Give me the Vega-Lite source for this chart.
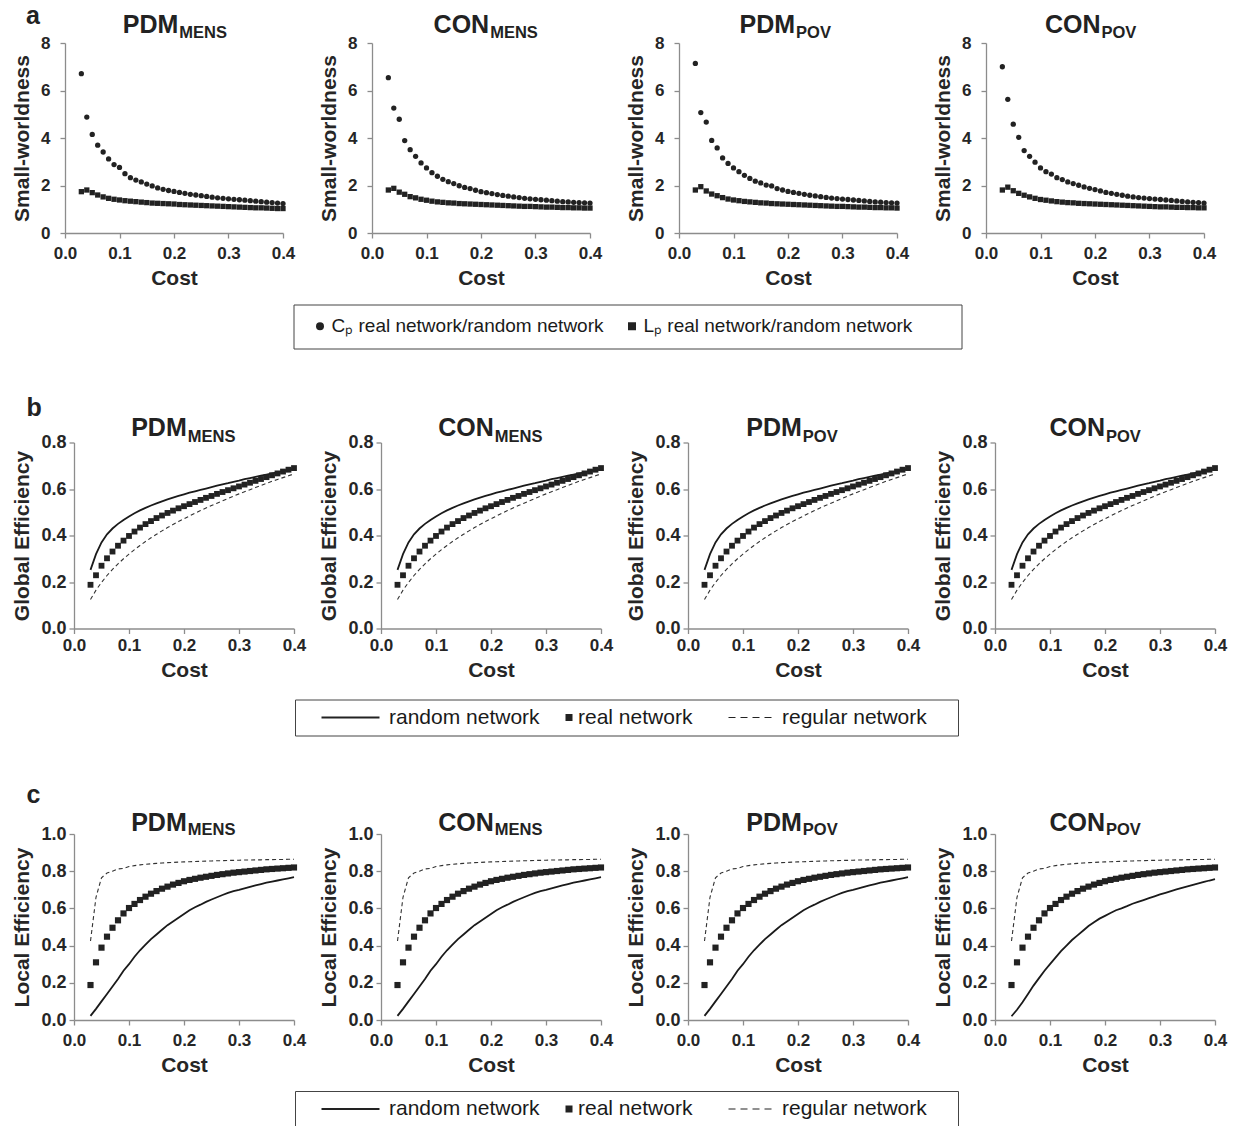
{
"$schema": "https://vega.github.io/schema/vega-lite/v6.json",
"background": "white",
"padding": {"left": 10, "top": 4, "right": 10, "bottom": 5},
"config": {
  "font": "Liberation Sans",
  "view": {"stroke": null},
  "axis": {"grid": false, "domainColor": "#8c8c8c", "domainWidth": 1.3, "tickColor": "#8c8c8c", "tickWidth": 1.3, "tickSize": 5, "labelFont": "Liberation Sans", "labelFontSize": 17, "labelFontWeight": "bold", "labelColor": "#262626", "labelFlush": false, "labelOverlap": false, "tickCount": 12, "titleFont": "Liberation Sans", "titleFontSize": 21, "titleFontWeight": "bold", "titleColor": "#262626"},
  "title": {"font": "Liberation Sans", "fontSize": 25, "fontWeight": "bold", "color": "#222", "anchor": "start", "frame": "bounds", "baseline": "alphabetic"},
  "legend": {"labelFont": "Liberation Sans", "labelColor": "#1a1a1a", "labelLimit": 600, "strokeColor": "#444", "direction": "horizontal", "orient": "none"}
},
"datasets": {
"t": [{"g":"PDM_MENS","n":"PDM","s":"MENS"},{"g":"CON_MENS","n":"CON","s":"MENS"},{"g":"PDM_POV","n":"PDM","s":"POV"},{"g":"CON_POV","n":"CON","s":"POV"}],
"sw": [
{"g":"PDM_MENS","x":0.03,"cp":6.71,"lp":1.74},{"g":"PDM_MENS","x":0.04,"cp":4.88,"lp":1.81},{"g":"PDM_MENS","x":0.05,"cp":4.15,"lp":1.70},{"g":"PDM_MENS","x":0.06,"cp":3.70,"lp":1.60},{"g":"PDM_MENS","x":0.07,"cp":3.41,"lp":1.52},{"g":"PDM_MENS","x":0.08,"cp":3.12,"lp":1.46},{"g":"PDM_MENS","x":0.09,"cp":2.88,"lp":1.42},{"g":"PDM_MENS","x":0.1,"cp":2.76,"lp":1.39},{"g":"PDM_MENS","x":0.11,"cp":2.50,"lp":1.36},{"g":"PDM_MENS","x":0.12,"cp":2.33,"lp":1.34},{"g":"PDM_MENS","x":0.13,"cp":2.23,"lp":1.32},{"g":"PDM_MENS","x":0.14,"cp":2.15,"lp":1.30},{"g":"PDM_MENS","x":0.15,"cp":2.06,"lp":1.28},{"g":"PDM_MENS","x":0.16,"cp":1.98,"lp":1.26},{"g":"PDM_MENS","x":0.17,"cp":1.90,"lp":1.25},{"g":"PDM_MENS","x":0.18,"cp":1.84,"lp":1.24},{"g":"PDM_MENS","x":0.19,"cp":1.79,"lp":1.23},{"g":"PDM_MENS","x":0.2,"cp":1.75,"lp":1.22},{"g":"PDM_MENS","x":0.21,"cp":1.71,"lp":1.20},{"g":"PDM_MENS","x":0.22,"cp":1.67,"lp":1.19},{"g":"PDM_MENS","x":0.23,"cp":1.63,"lp":1.18},{"g":"PDM_MENS","x":0.24,"cp":1.60,"lp":1.17},{"g":"PDM_MENS","x":0.25,"cp":1.57,"lp":1.16},{"g":"PDM_MENS","x":0.26,"cp":1.54,"lp":1.15},{"g":"PDM_MENS","x":0.27,"cp":1.51,"lp":1.14},{"g":"PDM_MENS","x":0.28,"cp":1.48,"lp":1.13},{"g":"PDM_MENS","x":0.29,"cp":1.46,"lp":1.12},{"g":"PDM_MENS","x":0.3,"cp":1.44,"lp":1.11},{"g":"PDM_MENS","x":0.31,"cp":1.42,"lp":1.10},{"g":"PDM_MENS","x":0.32,"cp":1.40,"lp":1.09},{"g":"PDM_MENS","x":0.33,"cp":1.38,"lp":1.08},{"g":"PDM_MENS","x":0.34,"cp":1.36,"lp":1.07},{"g":"PDM_MENS","x":0.35,"cp":1.34,"lp":1.06},{"g":"PDM_MENS","x":0.36,"cp":1.32,"lp":1.06},{"g":"PDM_MENS","x":0.37,"cp":1.30,"lp":1.05},{"g":"PDM_MENS","x":0.38,"cp":1.28,"lp":1.04},{"g":"PDM_MENS","x":0.39,"cp":1.26,"lp":1.03},{"g":"PDM_MENS","x":0.4,"cp":1.24,"lp":1.03},
{"g":"CON_MENS","x":0.03,"cp":6.54,"lp":1.81},{"g":"CON_MENS","x":0.04,"cp":5.26,"lp":1.88},{"g":"CON_MENS","x":0.05,"cp":4.79,"lp":1.72},{"g":"CON_MENS","x":0.06,"cp":3.89,"lp":1.63},{"g":"CON_MENS","x":0.07,"cp":3.51,"lp":1.53},{"g":"CON_MENS","x":0.08,"cp":3.23,"lp":1.48},{"g":"CON_MENS","x":0.09,"cp":2.95,"lp":1.42},{"g":"CON_MENS","x":0.1,"cp":2.74,"lp":1.38},{"g":"CON_MENS","x":0.11,"cp":2.54,"lp":1.34},{"g":"CON_MENS","x":0.12,"cp":2.39,"lp":1.31},{"g":"CON_MENS","x":0.13,"cp":2.26,"lp":1.29},{"g":"CON_MENS","x":0.14,"cp":2.16,"lp":1.27},{"g":"CON_MENS","x":0.15,"cp":2.08,"lp":1.26},{"g":"CON_MENS","x":0.16,"cp":1.99,"lp":1.24},{"g":"CON_MENS","x":0.17,"cp":1.92,"lp":1.23},{"g":"CON_MENS","x":0.18,"cp":1.87,"lp":1.22},{"g":"CON_MENS","x":0.19,"cp":1.80,"lp":1.21},{"g":"CON_MENS","x":0.2,"cp":1.74,"lp":1.20},{"g":"CON_MENS","x":0.21,"cp":1.70,"lp":1.19},{"g":"CON_MENS","x":0.22,"cp":1.66,"lp":1.18},{"g":"CON_MENS","x":0.23,"cp":1.62,"lp":1.17},{"g":"CON_MENS","x":0.24,"cp":1.58,"lp":1.16},{"g":"CON_MENS","x":0.25,"cp":1.55,"lp":1.15},{"g":"CON_MENS","x":0.26,"cp":1.52,"lp":1.14},{"g":"CON_MENS","x":0.27,"cp":1.49,"lp":1.13},{"g":"CON_MENS","x":0.28,"cp":1.46,"lp":1.12},{"g":"CON_MENS","x":0.29,"cp":1.44,"lp":1.12},{"g":"CON_MENS","x":0.3,"cp":1.42,"lp":1.11},{"g":"CON_MENS","x":0.31,"cp":1.40,"lp":1.10},{"g":"CON_MENS","x":0.32,"cp":1.38,"lp":1.09},{"g":"CON_MENS","x":0.33,"cp":1.36,"lp":1.09},{"g":"CON_MENS","x":0.34,"cp":1.34,"lp":1.08},{"g":"CON_MENS","x":0.35,"cp":1.32,"lp":1.07},{"g":"CON_MENS","x":0.36,"cp":1.31,"lp":1.07},{"g":"CON_MENS","x":0.37,"cp":1.29,"lp":1.06},{"g":"CON_MENS","x":0.38,"cp":1.28,"lp":1.06},{"g":"CON_MENS","x":0.39,"cp":1.27,"lp":1.05},{"g":"CON_MENS","x":0.4,"cp":1.26,"lp":1.05},
{"g":"PDM_POV","x":0.03,"cp":7.14,"lp":1.81},{"g":"PDM_POV","x":0.04,"cp":5.07,"lp":1.95},{"g":"PDM_POV","x":0.05,"cp":4.67,"lp":1.77},{"g":"PDM_POV","x":0.06,"cp":3.90,"lp":1.64},{"g":"PDM_POV","x":0.07,"cp":3.58,"lp":1.57},{"g":"PDM_POV","x":0.08,"cp":3.16,"lp":1.49},{"g":"PDM_POV","x":0.09,"cp":2.93,"lp":1.43},{"g":"PDM_POV","x":0.1,"cp":2.74,"lp":1.39},{"g":"PDM_POV","x":0.11,"cp":2.58,"lp":1.36},{"g":"PDM_POV","x":0.12,"cp":2.43,"lp":1.33},{"g":"PDM_POV","x":0.13,"cp":2.30,"lp":1.31},{"g":"PDM_POV","x":0.14,"cp":2.18,"lp":1.29},{"g":"PDM_POV","x":0.15,"cp":2.11,"lp":1.27},{"g":"PDM_POV","x":0.16,"cp":2.02,"lp":1.26},{"g":"PDM_POV","x":0.17,"cp":1.98,"lp":1.24},{"g":"PDM_POV","x":0.18,"cp":1.87,"lp":1.23},{"g":"PDM_POV","x":0.19,"cp":1.81,"lp":1.22},{"g":"PDM_POV","x":0.2,"cp":1.75,"lp":1.21},{"g":"PDM_POV","x":0.21,"cp":1.71,"lp":1.20},{"g":"PDM_POV","x":0.22,"cp":1.67,"lp":1.19},{"g":"PDM_POV","x":0.23,"cp":1.63,"lp":1.18},{"g":"PDM_POV","x":0.24,"cp":1.59,"lp":1.17},{"g":"PDM_POV","x":0.25,"cp":1.56,"lp":1.16},{"g":"PDM_POV","x":0.26,"cp":1.53,"lp":1.15},{"g":"PDM_POV","x":0.27,"cp":1.50,"lp":1.14},{"g":"PDM_POV","x":0.28,"cp":1.47,"lp":1.13},{"g":"PDM_POV","x":0.29,"cp":1.45,"lp":1.12},{"g":"PDM_POV","x":0.3,"cp":1.43,"lp":1.12},{"g":"PDM_POV","x":0.31,"cp":1.41,"lp":1.11},{"g":"PDM_POV","x":0.32,"cp":1.39,"lp":1.10},{"g":"PDM_POV","x":0.33,"cp":1.37,"lp":1.09},{"g":"PDM_POV","x":0.34,"cp":1.35,"lp":1.09},{"g":"PDM_POV","x":0.35,"cp":1.33,"lp":1.08},{"g":"PDM_POV","x":0.36,"cp":1.31,"lp":1.07},{"g":"PDM_POV","x":0.37,"cp":1.30,"lp":1.07},{"g":"PDM_POV","x":0.38,"cp":1.28,"lp":1.06},{"g":"PDM_POV","x":0.39,"cp":1.27,"lp":1.06},{"g":"PDM_POV","x":0.4,"cp":1.26,"lp":1.05},
{"g":"CON_POV","x":0.03,"cp":7.00,"lp":1.81},{"g":"CON_POV","x":0.04,"cp":5.63,"lp":1.93},{"g":"CON_POV","x":0.05,"cp":4.58,"lp":1.78},{"g":"CON_POV","x":0.06,"cp":4.03,"lp":1.67},{"g":"CON_POV","x":0.07,"cp":3.47,"lp":1.59},{"g":"CON_POV","x":0.08,"cp":3.23,"lp":1.52},{"g":"CON_POV","x":0.09,"cp":2.98,"lp":1.46},{"g":"CON_POV","x":0.1,"cp":2.74,"lp":1.41},{"g":"CON_POV","x":0.11,"cp":2.58,"lp":1.38},{"g":"CON_POV","x":0.12,"cp":2.48,"lp":1.35},{"g":"CON_POV","x":0.13,"cp":2.33,"lp":1.32},{"g":"CON_POV","x":0.14,"cp":2.25,"lp":1.30},{"g":"CON_POV","x":0.15,"cp":2.15,"lp":1.28},{"g":"CON_POV","x":0.16,"cp":2.08,"lp":1.27},{"g":"CON_POV","x":0.17,"cp":2.01,"lp":1.25},{"g":"CON_POV","x":0.18,"cp":1.94,"lp":1.24},{"g":"CON_POV","x":0.19,"cp":1.88,"lp":1.23},{"g":"CON_POV","x":0.2,"cp":1.83,"lp":1.22},{"g":"CON_POV","x":0.21,"cp":1.77,"lp":1.21},{"g":"CON_POV","x":0.22,"cp":1.71,"lp":1.20},{"g":"CON_POV","x":0.23,"cp":1.67,"lp":1.19},{"g":"CON_POV","x":0.24,"cp":1.63,"lp":1.18},{"g":"CON_POV","x":0.25,"cp":1.59,"lp":1.17},{"g":"CON_POV","x":0.26,"cp":1.55,"lp":1.16},{"g":"CON_POV","x":0.27,"cp":1.52,"lp":1.15},{"g":"CON_POV","x":0.28,"cp":1.49,"lp":1.14},{"g":"CON_POV","x":0.29,"cp":1.47,"lp":1.13},{"g":"CON_POV","x":0.3,"cp":1.45,"lp":1.12},{"g":"CON_POV","x":0.31,"cp":1.43,"lp":1.11},{"g":"CON_POV","x":0.32,"cp":1.41,"lp":1.10},{"g":"CON_POV","x":0.33,"cp":1.39,"lp":1.10},{"g":"CON_POV","x":0.34,"cp":1.37,"lp":1.09},{"g":"CON_POV","x":0.35,"cp":1.35,"lp":1.08},{"g":"CON_POV","x":0.36,"cp":1.33,"lp":1.08},{"g":"CON_POV","x":0.37,"cp":1.31,"lp":1.07},{"g":"CON_POV","x":0.38,"cp":1.29,"lp":1.07},{"g":"CON_POV","x":0.39,"cp":1.28,"lp":1.06},{"g":"CON_POV","x":0.4,"cp":1.26,"lp":1.06}
],
"ge": [
{"x":0.03,"rn":0.252,"rl":0.188,"rg":0.125},{"x":0.04,"rn":0.32,"rl":0.229,"rg":0.165},{"x":0.05,"rn":0.37,"rl":0.27,"rg":0.198},{"x":0.06,"rn":0.405,"rl":0.302,"rg":0.228},{"x":0.07,"rn":0.43,"rl":0.331,"rg":0.254},{"x":0.08,"rn":0.45,"rl":0.356,"rg":0.278},{"x":0.09,"rn":0.467,"rl":0.378,"rg":0.3},{"x":0.1,"rn":0.482,"rl":0.398,"rg":0.32},{"x":0.11,"rn":0.496,"rl":0.417,"rg":0.339},{"x":0.12,"rn":0.508,"rl":0.434,"rg":0.357},{"x":0.13,"rn":0.519,"rl":0.449,"rg":0.374},{"x":0.14,"rn":0.529,"rl":0.462,"rg":0.39},{"x":0.15,"rn":0.538,"rl":0.475,"rg":0.405},{"x":0.16,"rn":0.547,"rl":0.486,"rg":0.42},{"x":0.17,"rn":0.555,"rl":0.497,"rg":0.434},{"x":0.18,"rn":0.563,"rl":0.507,"rg":0.447},{"x":0.19,"rn":0.57,"rl":0.517,"rg":0.46},{"x":0.2,"rn":0.577,"rl":0.526,"rg":0.472},{"x":0.21,"rn":0.584,"rl":0.535,"rg":0.484},{"x":0.22,"rn":0.59,"rl":0.544,"rg":0.496},{"x":0.23,"rn":0.596,"rl":0.553,"rg":0.507},{"x":0.24,"rn":0.602,"rl":0.562,"rg":0.518},{"x":0.25,"rn":0.608,"rl":0.57,"rg":0.529},{"x":0.26,"rn":0.614,"rl":0.579,"rg":0.539},{"x":0.27,"rn":0.62,"rl":0.587,"rg":0.549},{"x":0.28,"rn":0.625,"rl":0.595,"rg":0.559},{"x":0.29,"rn":0.631,"rl":0.603,"rg":0.569},{"x":0.3,"rn":0.636,"rl":0.611,"rg":0.579},{"x":0.31,"rn":0.642,"rl":0.619,"rg":0.588},{"x":0.32,"rn":0.647,"rl":0.627,"rg":0.597},{"x":0.33,"rn":0.652,"rl":0.635,"rg":0.606},{"x":0.34,"rn":0.657,"rl":0.643,"rg":0.615},{"x":0.35,"rn":0.662,"rl":0.651,"rg":0.624},{"x":0.36,"rn":0.667,"rl":0.659,"rg":0.633},{"x":0.37,"rn":0.672,"rl":0.667,"rg":0.641},{"x":0.38,"rn":0.677,"rl":0.675,"rg":0.649},{"x":0.39,"rn":0.682,"rl":0.683,"rg":0.657},{"x":0.4,"rn":0.687,"rl":0.69,"rg":0.665}
],
"le": [
{"k":"A","x":0.03,"rn":0.022,"rl":0.188,"rg":0.425},{"k":"A","x":0.04,"rn":0.06,"rl":0.31,"rg":0.66},{"k":"A","x":0.05,"rn":0.1,"rl":0.389,"rg":0.765},{"k":"A","x":0.06,"rn":0.14,"rl":0.448,"rg":0.79},{"k":"A","x":0.07,"rn":0.18,"rl":0.496,"rg":0.8},{"k":"A","x":0.08,"rn":0.22,"rl":0.536,"rg":0.812},{"k":"A","x":0.09,"rn":0.265,"rl":0.573,"rg":0.815},{"k":"A","x":0.1,"rn":0.3,"rl":0.602,"rg":0.825},{"k":"A","x":0.11,"rn":0.34,"rl":0.624,"rg":0.83},{"k":"A","x":0.12,"rn":0.375,"rl":0.645,"rg":0.834},{"k":"A","x":0.13,"rn":0.405,"rl":0.663,"rg":0.837},{"k":"A","x":0.14,"rn":0.435,"rl":0.679,"rg":0.84},{"k":"A","x":0.15,"rn":0.46,"rl":0.693,"rg":0.842},{"k":"A","x":0.16,"rn":0.485,"rl":0.706,"rg":0.844},{"k":"A","x":0.17,"rn":0.51,"rl":0.717,"rg":0.846},{"k":"A","x":0.18,"rn":0.53,"rl":0.728,"rg":0.847},{"k":"A","x":0.19,"rn":0.55,"rl":0.737,"rg":0.849},{"k":"A","x":0.2,"rn":0.57,"rl":0.746,"rg":0.85},{"k":"A","x":0.21,"rn":0.59,"rl":0.753,"rg":0.851},{"k":"A","x":0.22,"rn":0.606,"rl":0.759,"rg":0.852},{"k":"A","x":0.23,"rn":0.62,"rl":0.765,"rg":0.853},{"k":"A","x":0.24,"rn":0.635,"rl":0.77,"rg":0.854},{"k":"A","x":0.25,"rn":0.648,"rl":0.775,"rg":0.855},{"k":"A","x":0.26,"rn":0.66,"rl":0.78,"rg":0.856},{"k":"A","x":0.27,"rn":0.672,"rl":0.784,"rg":0.857},{"k":"A","x":0.28,"rn":0.683,"rl":0.788,"rg":0.858},{"k":"A","x":0.29,"rn":0.693,"rl":0.792,"rg":0.858},{"k":"A","x":0.3,"rn":0.7,"rl":0.795,"rg":0.859},{"k":"A","x":0.31,"rn":0.708,"rl":0.798,"rg":0.86},{"k":"A","x":0.32,"rn":0.716,"rl":0.801,"rg":0.86},{"k":"A","x":0.33,"rn":0.724,"rl":0.804,"rg":0.861},{"k":"A","x":0.34,"rn":0.731,"rl":0.807,"rg":0.861},{"k":"A","x":0.35,"rn":0.738,"rl":0.81,"rg":0.862},{"k":"A","x":0.36,"rn":0.744,"rl":0.812,"rg":0.862},{"k":"A","x":0.37,"rn":0.75,"rl":0.814,"rg":0.863},{"k":"A","x":0.38,"rn":0.756,"rl":0.816,"rg":0.863},{"k":"A","x":0.39,"rn":0.762,"rl":0.818,"rg":0.864},{"k":"A","x":0.4,"rn":0.768,"rl":0.82,"rg":0.864},
{"k":"B","x":0.03,"rn":0.02,"rl":0.188,"rg":0.425},{"k":"B","x":0.04,"rn":0.055,"rl":0.31,"rg":0.66},{"k":"B","x":0.05,"rn":0.095,"rl":0.389,"rg":0.765},{"k":"B","x":0.06,"rn":0.14,"rl":0.448,"rg":0.79},{"k":"B","x":0.07,"rn":0.185,"rl":0.496,"rg":0.8},{"k":"B","x":0.08,"rn":0.225,"rl":0.536,"rg":0.812},{"k":"B","x":0.09,"rn":0.265,"rl":0.573,"rg":0.815},{"k":"B","x":0.1,"rn":0.3,"rl":0.602,"rg":0.825},{"k":"B","x":0.11,"rn":0.335,"rl":0.624,"rg":0.83},{"k":"B","x":0.12,"rn":0.37,"rl":0.645,"rg":0.834},{"k":"B","x":0.13,"rn":0.4,"rl":0.663,"rg":0.837},{"k":"B","x":0.14,"rn":0.43,"rl":0.679,"rg":0.84},{"k":"B","x":0.15,"rn":0.455,"rl":0.693,"rg":0.842},{"k":"B","x":0.16,"rn":0.48,"rl":0.706,"rg":0.844},{"k":"B","x":0.17,"rn":0.505,"rl":0.717,"rg":0.846},{"k":"B","x":0.18,"rn":0.525,"rl":0.728,"rg":0.847},{"k":"B","x":0.19,"rn":0.545,"rl":0.737,"rg":0.849},{"k":"B","x":0.2,"rn":0.56,"rl":0.746,"rg":0.85},{"k":"B","x":0.21,"rn":0.575,"rl":0.753,"rg":0.851},{"k":"B","x":0.22,"rn":0.59,"rl":0.759,"rg":0.852},{"k":"B","x":0.23,"rn":0.6,"rl":0.765,"rg":0.853},{"k":"B","x":0.24,"rn":0.612,"rl":0.77,"rg":0.854},{"k":"B","x":0.25,"rn":0.625,"rl":0.775,"rg":0.855},{"k":"B","x":0.26,"rn":0.635,"rl":0.78,"rg":0.856},{"k":"B","x":0.27,"rn":0.645,"rl":0.784,"rg":0.857},{"k":"B","x":0.28,"rn":0.655,"rl":0.788,"rg":0.858},{"k":"B","x":0.29,"rn":0.665,"rl":0.792,"rg":0.858},{"k":"B","x":0.3,"rn":0.675,"rl":0.795,"rg":0.859},{"k":"B","x":0.31,"rn":0.684,"rl":0.798,"rg":0.86},{"k":"B","x":0.32,"rn":0.693,"rl":0.801,"rg":0.86},{"k":"B","x":0.33,"rn":0.702,"rl":0.804,"rg":0.861},{"k":"B","x":0.34,"rn":0.71,"rl":0.807,"rg":0.861},{"k":"B","x":0.35,"rn":0.718,"rl":0.81,"rg":0.862},{"k":"B","x":0.36,"rn":0.726,"rl":0.812,"rg":0.862},{"k":"B","x":0.37,"rn":0.734,"rl":0.814,"rg":0.863},{"k":"B","x":0.38,"rn":0.742,"rl":0.816,"rg":0.863},{"k":"B","x":0.39,"rn":0.75,"rl":0.818,"rg":0.864},{"k":"B","x":0.4,"rn":0.757,"rl":0.82,"rg":0.864}
]
},
"columns": 2,
"align": {"row": "each", "column": "none"},
"bounds": "full",
"spacing": {"row": 46.5, "column": 0},
"resolve": {"scale": {"shape": "independent"}, "legend": {"shape": "independent"}},
"concat": [
{"width": 1, "height": 1, "view": {"fill": "transparent", "stroke": null}, "data": {"name": "t"}, "transform": [{"filter": "false"}], "mark": "text"},
{
 "title": {"text": "a", "dx": 15, "offset": -16},
 "spacing": 23, "bounds": "full",
 "hconcat": [
  {"width": 218, "height": 190,
   "layer": [
    {"data": {"name": "sw"}, "transform": [{"filter": "datum.g === 'PDM_MENS'"}, {"fold": ["cp", "lp"], "as": ["series", "value"]}],
     "mark": {"type": "point", "filled": true, "opacity": 1, "color": "#222", "size": 28},
     "encoding": {
      "x": {"field": "x", "type": "quantitative", "scale": {"domain": [0, 0.4], "nice": false}, "axis": {"values": [0, 0.1, 0.2, 0.3, 0.4], "format": ".1f", "title": "Cost", "labelPadding": 7, "titlePadding": 6}},
      "y": {"field": "value", "type": "quantitative", "scale": {"domain": [0, 8], "nice": false}, "axis": {"values": [0, 2, 4, 6, 8], "format": "d", "title": "Small-worldness", "labelPadding": 10, "titlePadding": 8.5}},
      "shape": {"field": "series", "type": "nominal", "scale": {"domain": ["cp", "lp"], "range": ["circle", "square"]},
       "legend": {"orient": "none", "legendX": 228.5, "legendY": 261.5, "direction": "horizontal", "title": null, "padding": 12, "strokeColor": "#444", "symbolOffset": 5, "labelOffset": 2, "columnPadding": 14, "labelFontSize": 19, "labelLimit": 600, "symbolSize": 64, "symbolFillColor": "#222", "symbolStrokeWidth": 0,
        "labelExpr": "datum.value === 'cp' ? 'Cₚ real network/random network' : 'Lₚ real network/random network\u00a0\u00a0\u00a0\u00a0\u00a0\u00a0\u00a0\u200b'"}}}},
    {"data": {"name": "t"}, "transform": [{"filter": "datum.g === 'PDM_MENS'"}], "mark": {"type": "text", "align": "right", "baseline": "alphabetic", "fontSize": 25, "fontWeight": "bold", "color": "#222", "dy": -10}, "encoding": {"x": {"datum": 0.208}, "y": {"datum": 8}, "text": {"field": "n", "type": "nominal"}}},
    {"data": {"name": "t"}, "transform": [{"filter": "datum.g === 'PDM_MENS'"}], "mark": {"type": "text", "align": "left", "baseline": "alphabetic", "fontSize": 16.5, "fontWeight": "bold", "color": "#222", "dx": 1, "dy": -5}, "encoding": {"x": {"datum": 0.208}, "y": {"datum": 8}, "text": {"field": "s", "type": "nominal"}}}
   ]},
  {"width": 218, "height": 190,
   "layer": [
    {"data": {"name": "sw"}, "transform": [{"filter": "datum.g === 'CON_MENS'"}, {"fold": ["cp", "lp"], "as": ["series", "value"]}],
     "mark": {"type": "point", "filled": true, "opacity": 1, "color": "#222", "size": 28},
     "encoding": {
      "x": {"field": "x", "type": "quantitative", "scale": {"domain": [0, 0.4], "nice": false}, "axis": {"values": [0, 0.1, 0.2, 0.3, 0.4], "format": ".1f", "title": "Cost", "labelPadding": 7, "titlePadding": 6}},
      "y": {"field": "value", "type": "quantitative", "scale": {"domain": [0, 8], "nice": false}, "axis": {"values": [0, 2, 4, 6, 8], "format": "d", "title": "Small-worldness", "labelPadding": 10, "titlePadding": 8.5}},
      "shape": {"field": "series", "type": "nominal", "scale": {"domain": ["cp", "lp"], "range": ["circle", "square"]}}}},
    {"data": {"name": "t"}, "transform": [{"filter": "datum.g === 'CON_MENS'"}], "mark": {"type": "text", "align": "right", "baseline": "alphabetic", "fontSize": 25, "fontWeight": "bold", "color": "#222", "dy": -10}, "encoding": {"x": {"datum": 0.215}, "y": {"datum": 8}, "text": {"field": "n", "type": "nominal"}}},
    {"data": {"name": "t"}, "transform": [{"filter": "datum.g === 'CON_MENS'"}], "mark": {"type": "text", "align": "left", "baseline": "alphabetic", "fontSize": 16.5, "fontWeight": "bold", "color": "#222", "dx": 1, "dy": -5}, "encoding": {"x": {"datum": 0.215}, "y": {"datum": 8}, "text": {"field": "s", "type": "nominal"}}}
   ]},
  {"width": 218, "height": 190,
   "layer": [
    {"data": {"name": "sw"}, "transform": [{"filter": "datum.g === 'PDM_POV'"}, {"fold": ["cp", "lp"], "as": ["series", "value"]}],
     "mark": {"type": "point", "filled": true, "opacity": 1, "color": "#222", "size": 28},
     "encoding": {
      "x": {"field": "x", "type": "quantitative", "scale": {"domain": [0, 0.4], "nice": false}, "axis": {"values": [0, 0.1, 0.2, 0.3, 0.4], "format": ".1f", "title": "Cost", "labelPadding": 7, "titlePadding": 6}},
      "y": {"field": "value", "type": "quantitative", "scale": {"domain": [0, 8], "nice": false}, "axis": {"values": [0, 2, 4, 6, 8], "format": "d", "title": "Small-worldness", "labelPadding": 10, "titlePadding": 8.5}},
      "shape": {"field": "series", "type": "nominal", "scale": {"domain": ["cp", "lp"], "range": ["circle", "square"]}}}},
    {"data": {"name": "t"}, "transform": [{"filter": "datum.g === 'PDM_POV'"}], "mark": {"type": "text", "align": "right", "baseline": "alphabetic", "fontSize": 25, "fontWeight": "bold", "color": "#222", "dy": -10}, "encoding": {"x": {"datum": 0.213}, "y": {"datum": 8}, "text": {"field": "n", "type": "nominal"}}},
    {"data": {"name": "t"}, "transform": [{"filter": "datum.g === 'PDM_POV'"}], "mark": {"type": "text", "align": "left", "baseline": "alphabetic", "fontSize": 16.5, "fontWeight": "bold", "color": "#222", "dx": 1, "dy": -5}, "encoding": {"x": {"datum": 0.213}, "y": {"datum": 8}, "text": {"field": "s", "type": "nominal"}}}
   ]},
  {"width": 218, "height": 190,
   "layer": [
    {"data": {"name": "sw"}, "transform": [{"filter": "datum.g === 'CON_POV'"}, {"fold": ["cp", "lp"], "as": ["series", "value"]}],
     "mark": {"type": "point", "filled": true, "opacity": 1, "color": "#222", "size": 28},
     "encoding": {
      "x": {"field": "x", "type": "quantitative", "scale": {"domain": [0, 0.4], "nice": false}, "axis": {"values": [0, 0.1, 0.2, 0.3, 0.4], "format": ".1f", "title": "Cost", "labelPadding": 7, "titlePadding": 6}},
      "y": {"field": "value", "type": "quantitative", "scale": {"domain": [0, 8], "nice": false}, "axis": {"values": [0, 2, 4, 6, 8], "format": "d", "title": "Small-worldness", "labelPadding": 10, "titlePadding": 8.5}},
      "shape": {"field": "series", "type": "nominal", "scale": {"domain": ["cp", "lp"], "range": ["circle", "square"]}}}},
    {"data": {"name": "t"}, "transform": [{"filter": "datum.g === 'CON_POV'"}], "mark": {"type": "text", "align": "right", "baseline": "alphabetic", "fontSize": 25, "fontWeight": "bold", "color": "#222", "dy": -10}, "encoding": {"x": {"datum": 0.21}, "y": {"datum": 8}, "text": {"field": "n", "type": "nominal"}}},
    {"data": {"name": "t"}, "transform": [{"filter": "datum.g === 'CON_POV'"}], "mark": {"type": "text", "align": "left", "baseline": "alphabetic", "fontSize": 16.5, "fontWeight": "bold", "color": "#222", "dx": 1, "dy": -5}, "encoding": {"x": {"datum": 0.21}, "y": {"datum": 8}, "text": {"field": "s", "type": "nominal"}}}
   ]}
 ]
},
{"width": 1, "height": 293, "view": {"fill": "transparent", "stroke": null}, "data": {"name": "t"}, "transform": [{"filter": "false"}], "mark": "text"},
{
 "title": {"text": "b", "dx": 15, "offset": -5},
 "spacing": 12, "bounds": "full",
 "hconcat": [
  {"width": 220, "height": 186,
   "layer": [
    {"data": {"name": "ge"}, "mark": {"type": "line", "color": "#1a1a1a", "strokeWidth": 1.8}, "encoding": {"x": {"field": "x", "type": "quantitative", "scale": {"domain": [0, 0.4], "nice": false}, "axis": {"values": [0, 0.1, 0.2, 0.3, 0.4], "format": ".1f", "title": "Cost", "labelPadding": 4, "titlePadding": 6}}, "y": {"field": "rn", "type": "quantitative", "scale": {"domain": [0, 0.8], "nice": false}, "axis": {"values": [0, 0.2, 0.4, 0.6, 0.8], "format": ".1f", "title": "Global Efficiency", "labelFontSize": 18, "labelPadding": 3, "titlePadding": 8.5}}}},
    {"data": {"name": "ge"}, "mark": {"type": "line", "color": "#333", "strokeWidth": 1.1, "strokeDash": [4, 3]}, "encoding": {"x": {"field": "x", "type": "quantitative"}, "y": {"field": "rg", "type": "quantitative"}}},
    {"data": {"name": "ge"}, "mark": {"type": "point", "shape": "square", "filled": true, "opacity": 1, "color": "#222", "size": 34},
     "encoding": {"x": {"field": "x", "type": "quantitative"}, "y": {"field": "rl", "type": "quantitative"},
      "shape": {"datum": "real network", "scale": {"domain": ["random network", "real network", "regular network"], "range": ["stroke", "square", "stroke"]},
       "legend": {"orient": "none", "legendX": 221, "legendY": 257, "direction": "horizontal", "title": null, "padding": 7, "strokeColor": "#444", "clipHeight": 22, "labelFontSize": 21, "labelLimit": 600, "columnPadding": 6, "symbolOffset": 0, "labelOffset": 0,
        "labelExpr": "datum.value === 'regular network' ? 'regular network\u00a0\u00a0\u00a0\u00a0\u200b' : datum.label",
        "encoding": {
         "symbols": {
          "size": {"value": {"expr": "datum.value === 'real network' ? 49 : datum.value === 'random network' ? 3364 : 2116"}},
          "strokeWidth": {"value": {"expr": "datum.value === 'real network' ? 0 : datum.value === 'random network' ? 2 : 1.2"}},
          "strokeDash": {"value": {"expr": "datum.value === 'regular network' ? [7, 5] : [1, 0]"}},
          "stroke": {"value": "#222"}, "fill": {"value": "#222"}, "opacity": {"value": 1},
          "x": {"value": {"expr": "datum.value === 'real network' ? 23 : datum.value === 'random network' ? 48.5 : 52.5"}}},
         "labels": {"x": {"value": {"expr": "datum.value === 'real network' ? 32 : datum.value === 'random network' ? 87 : 83"}}}
        }}}}},
    {"data": {"name": "t"}, "transform": [{"filter": "datum.g === 'PDM_MENS'"}], "mark": {"type": "text", "align": "right", "baseline": "alphabetic", "fontSize": 25, "fontWeight": "bold", "color": "#222", "dy": -7}, "encoding": {"x": {"datum": 0.205}, "y": {"datum": 0.8}, "text": {"field": "n", "type": "nominal"}}},
    {"data": {"name": "t"}, "transform": [{"filter": "datum.g === 'PDM_MENS'"}], "mark": {"type": "text", "align": "left", "baseline": "alphabetic", "fontSize": 16.5, "fontWeight": "bold", "color": "#222", "dx": 1, "dy": -0.5}, "encoding": {"x": {"datum": 0.205}, "y": {"datum": 0.8}, "text": {"field": "s", "type": "nominal"}}}
   ]},
  {"width": 220, "height": 186,
   "layer": [
    {"data": {"name": "ge"}, "mark": {"type": "line", "color": "#1a1a1a", "strokeWidth": 1.8}, "encoding": {"x": {"field": "x", "type": "quantitative", "scale": {"domain": [0, 0.4], "nice": false}, "axis": {"values": [0, 0.1, 0.2, 0.3, 0.4], "format": ".1f", "title": "Cost", "labelPadding": 4, "titlePadding": 6}}, "y": {"field": "rn", "type": "quantitative", "scale": {"domain": [0, 0.8], "nice": false}, "axis": {"values": [0, 0.2, 0.4, 0.6, 0.8], "format": ".1f", "title": "Global Efficiency", "labelFontSize": 18, "labelPadding": 3, "titlePadding": 8.5}}}},
    {"data": {"name": "ge"}, "mark": {"type": "line", "color": "#333", "strokeWidth": 1.1, "strokeDash": [4, 3]}, "encoding": {"x": {"field": "x", "type": "quantitative"}, "y": {"field": "rg", "type": "quantitative"}}},
    {"data": {"name": "ge"}, "mark": {"type": "point", "shape": "square", "filled": true, "opacity": 1, "color": "#222", "size": 34}, "encoding": {"x": {"field": "x", "type": "quantitative"}, "y": {"field": "rl", "type": "quantitative"}}},
    {"data": {"name": "t"}, "transform": [{"filter": "datum.g === 'CON_MENS'"}], "mark": {"type": "text", "align": "right", "baseline": "alphabetic", "fontSize": 25, "fontWeight": "bold", "color": "#222", "dy": -7}, "encoding": {"x": {"datum": 0.205}, "y": {"datum": 0.8}, "text": {"field": "n", "type": "nominal"}}},
    {"data": {"name": "t"}, "transform": [{"filter": "datum.g === 'CON_MENS'"}], "mark": {"type": "text", "align": "left", "baseline": "alphabetic", "fontSize": 16.5, "fontWeight": "bold", "color": "#222", "dx": 1, "dy": -0.5}, "encoding": {"x": {"datum": 0.205}, "y": {"datum": 0.8}, "text": {"field": "s", "type": "nominal"}}}
   ]},
  {"width": 220, "height": 186,
   "layer": [
    {"data": {"name": "ge"}, "mark": {"type": "line", "color": "#1a1a1a", "strokeWidth": 1.8}, "encoding": {"x": {"field": "x", "type": "quantitative", "scale": {"domain": [0, 0.4], "nice": false}, "axis": {"values": [0, 0.1, 0.2, 0.3, 0.4], "format": ".1f", "title": "Cost", "labelPadding": 4, "titlePadding": 6}}, "y": {"field": "rn", "type": "quantitative", "scale": {"domain": [0, 0.8], "nice": false}, "axis": {"values": [0, 0.2, 0.4, 0.6, 0.8], "format": ".1f", "title": "Global Efficiency", "labelFontSize": 18, "labelPadding": 3, "titlePadding": 8.5}}}},
    {"data": {"name": "ge"}, "mark": {"type": "line", "color": "#333", "strokeWidth": 1.1, "strokeDash": [4, 3]}, "encoding": {"x": {"field": "x", "type": "quantitative"}, "y": {"field": "rg", "type": "quantitative"}}},
    {"data": {"name": "ge"}, "mark": {"type": "point", "shape": "square", "filled": true, "opacity": 1, "color": "#222", "size": 34}, "encoding": {"x": {"field": "x", "type": "quantitative"}, "y": {"field": "rl", "type": "quantitative"}}},
    {"data": {"name": "t"}, "transform": [{"filter": "datum.g === 'PDM_POV'"}], "mark": {"type": "text", "align": "right", "baseline": "alphabetic", "fontSize": 25, "fontWeight": "bold", "color": "#222", "dy": -7}, "encoding": {"x": {"datum": 0.207}, "y": {"datum": 0.8}, "text": {"field": "n", "type": "nominal"}}},
    {"data": {"name": "t"}, "transform": [{"filter": "datum.g === 'PDM_POV'"}], "mark": {"type": "text", "align": "left", "baseline": "alphabetic", "fontSize": 16.5, "fontWeight": "bold", "color": "#222", "dx": 1, "dy": -0.5}, "encoding": {"x": {"datum": 0.207}, "y": {"datum": 0.8}, "text": {"field": "s", "type": "nominal"}}}
   ]},
  {"width": 220, "height": 186,
   "layer": [
    {"data": {"name": "ge"}, "mark": {"type": "line", "color": "#1a1a1a", "strokeWidth": 1.8}, "encoding": {"x": {"field": "x", "type": "quantitative", "scale": {"domain": [0, 0.4], "nice": false}, "axis": {"values": [0, 0.1, 0.2, 0.3, 0.4], "format": ".1f", "title": "Cost", "labelPadding": 4, "titlePadding": 6}}, "y": {"field": "rn", "type": "quantitative", "scale": {"domain": [0, 0.8], "nice": false}, "axis": {"values": [0, 0.2, 0.4, 0.6, 0.8], "format": ".1f", "title": "Global Efficiency", "labelFontSize": 18, "labelPadding": 3, "titlePadding": 8.5}}}},
    {"data": {"name": "ge"}, "mark": {"type": "line", "color": "#333", "strokeWidth": 1.1, "strokeDash": [4, 3]}, "encoding": {"x": {"field": "x", "type": "quantitative"}, "y": {"field": "rg", "type": "quantitative"}}},
    {"data": {"name": "ge"}, "mark": {"type": "point", "shape": "square", "filled": true, "opacity": 1, "color": "#222", "size": 34}, "encoding": {"x": {"field": "x", "type": "quantitative"}, "y": {"field": "rl", "type": "quantitative"}}},
    {"data": {"name": "t"}, "transform": [{"filter": "datum.g === 'CON_POV'"}], "mark": {"type": "text", "align": "right", "baseline": "alphabetic", "fontSize": 25, "fontWeight": "bold", "color": "#222", "dy": -7}, "encoding": {"x": {"datum": 0.2}, "y": {"datum": 0.8}, "text": {"field": "n", "type": "nominal"}}},
    {"data": {"name": "t"}, "transform": [{"filter": "datum.g === 'CON_POV'"}], "mark": {"type": "text", "align": "left", "baseline": "alphabetic", "fontSize": 16.5, "fontWeight": "bold", "color": "#222", "dx": 1, "dy": -0.5}, "encoding": {"x": {"datum": 0.2}, "y": {"datum": 0.8}, "text": {"field": "s", "type": "nominal"}}}
   ]}
 ]
},
{"width": 1, "height": 1, "view": {"fill": "transparent", "stroke": null}, "data": {"name": "t"}, "transform": [{"filter": "false"}], "mark": "text"},
{
 "title": {"text": "c", "dx": 15, "offset": 3},
 "spacing": 12, "bounds": "full",
 "hconcat": [
  {"width": 220, "height": 186,
   "layer": [
    {"data": {"name": "le"}, "transform": [{"filter": "datum.k === 'A'"}], "mark": {"type": "line", "color": "#1a1a1a", "strokeWidth": 1.8}, "encoding": {"x": {"field": "x", "type": "quantitative", "scale": {"domain": [0, 0.4], "nice": false}, "axis": {"values": [0, 0.1, 0.2, 0.3, 0.4], "format": ".1f", "title": "Cost", "labelPadding": 7, "titlePadding": 6}}, "y": {"field": "rn", "type": "quantitative", "scale": {"domain": [0, 1], "nice": false}, "axis": {"values": [0, 0.2, 0.4, 0.6, 0.8, 1], "tickCount": 12, "format": ".1f", "title": "Local Efficiency", "labelFontSize": 18, "labelPadding": 3, "titlePadding": 8.5}}}},
    {"data": {"name": "le"}, "transform": [{"filter": "datum.k === 'A'"}], "mark": {"type": "line", "color": "#333", "strokeWidth": 1.1, "strokeDash": [4, 3]}, "encoding": {"x": {"field": "x", "type": "quantitative"}, "y": {"field": "rg", "type": "quantitative"}}},
    {"data": {"name": "le"}, "transform": [{"filter": "datum.k === 'A'"}], "mark": {"type": "point", "shape": "square", "filled": true, "opacity": 1, "color": "#222", "size": 38},
     "encoding": {"x": {"field": "x", "type": "quantitative"}, "y": {"field": "rl", "type": "quantitative"},
      "shape": {"datum": "real network", "scale": {"domain": ["random network", "real network", "regular network"], "range": ["stroke", "square", "stroke"]},
       "legend": {"orient": "none", "legendX": 221, "legendY": 257, "direction": "horizontal", "title": null, "padding": 7, "strokeColor": "#444", "clipHeight": 22, "labelFontSize": 21, "labelLimit": 600, "columnPadding": 6, "symbolOffset": 0, "labelOffset": 0,
        "labelExpr": "datum.value === 'regular network' ? 'regular network\u00a0\u00a0\u00a0\u00a0\u200b' : datum.label",
        "encoding": {
         "symbols": {
          "size": {"value": {"expr": "datum.value === 'real network' ? 49 : datum.value === 'random network' ? 3364 : 2116"}},
          "strokeWidth": {"value": {"expr": "datum.value === 'real network' ? 0 : datum.value === 'random network' ? 2 : 1.2"}},
          "strokeDash": {"value": {"expr": "datum.value === 'regular network' ? [7, 5] : [1, 0]"}},
          "stroke": {"value": "#222"}, "fill": {"value": "#222"}, "opacity": {"value": 1},
          "x": {"value": {"expr": "datum.value === 'real network' ? 23 : datum.value === 'random network' ? 48.5 : 52.5"}}},
         "labels": {"x": {"value": {"expr": "datum.value === 'real network' ? 32 : datum.value === 'random network' ? 87 : 83"}}}
        }}}}},
    {"data": {"name": "t"}, "transform": [{"filter": "datum.g === 'PDM_MENS'"}], "mark": {"type": "text", "align": "right", "baseline": "alphabetic", "fontSize": 25, "fontWeight": "bold", "color": "#222", "dy": -3}, "encoding": {"x": {"datum": 0.205}, "y": {"datum": 1}, "text": {"field": "n", "type": "nominal"}}},
    {"data": {"name": "t"}, "transform": [{"filter": "datum.g === 'PDM_MENS'"}], "mark": {"type": "text", "align": "left", "baseline": "alphabetic", "fontSize": 16.5, "fontWeight": "bold", "color": "#222", "dx": 1, "dy": 0.5}, "encoding": {"x": {"datum": 0.205}, "y": {"datum": 1}, "text": {"field": "s", "type": "nominal"}}}
   ]},
  {"width": 220, "height": 186,
   "layer": [
    {"data": {"name": "le"}, "transform": [{"filter": "datum.k === 'A'"}], "mark": {"type": "line", "color": "#1a1a1a", "strokeWidth": 1.8}, "encoding": {"x": {"field": "x", "type": "quantitative", "scale": {"domain": [0, 0.4], "nice": false}, "axis": {"values": [0, 0.1, 0.2, 0.3, 0.4], "format": ".1f", "title": "Cost", "labelPadding": 7, "titlePadding": 6}}, "y": {"field": "rn", "type": "quantitative", "scale": {"domain": [0, 1], "nice": false}, "axis": {"values": [0, 0.2, 0.4, 0.6, 0.8, 1], "tickCount": 12, "format": ".1f", "title": "Local Efficiency", "labelFontSize": 18, "labelPadding": 3, "titlePadding": 8.5}}}},
    {"data": {"name": "le"}, "transform": [{"filter": "datum.k === 'A'"}], "mark": {"type": "line", "color": "#333", "strokeWidth": 1.1, "strokeDash": [4, 3]}, "encoding": {"x": {"field": "x", "type": "quantitative"}, "y": {"field": "rg", "type": "quantitative"}}},
    {"data": {"name": "le"}, "transform": [{"filter": "datum.k === 'A'"}], "mark": {"type": "point", "shape": "square", "filled": true, "opacity": 1, "color": "#222", "size": 38}, "encoding": {"x": {"field": "x", "type": "quantitative"}, "y": {"field": "rl", "type": "quantitative"}}},
    {"data": {"name": "t"}, "transform": [{"filter": "datum.g === 'CON_MENS'"}], "mark": {"type": "text", "align": "right", "baseline": "alphabetic", "fontSize": 25, "fontWeight": "bold", "color": "#222", "dy": -3}, "encoding": {"x": {"datum": 0.205}, "y": {"datum": 1}, "text": {"field": "n", "type": "nominal"}}},
    {"data": {"name": "t"}, "transform": [{"filter": "datum.g === 'CON_MENS'"}], "mark": {"type": "text", "align": "left", "baseline": "alphabetic", "fontSize": 16.5, "fontWeight": "bold", "color": "#222", "dx": 1, "dy": 0.5}, "encoding": {"x": {"datum": 0.205}, "y": {"datum": 1}, "text": {"field": "s", "type": "nominal"}}}
   ]},
  {"width": 220, "height": 186,
   "layer": [
    {"data": {"name": "le"}, "transform": [{"filter": "datum.k === 'A'"}], "mark": {"type": "line", "color": "#1a1a1a", "strokeWidth": 1.8}, "encoding": {"x": {"field": "x", "type": "quantitative", "scale": {"domain": [0, 0.4], "nice": false}, "axis": {"values": [0, 0.1, 0.2, 0.3, 0.4], "format": ".1f", "title": "Cost", "labelPadding": 7, "titlePadding": 6}}, "y": {"field": "rn", "type": "quantitative", "scale": {"domain": [0, 1], "nice": false}, "axis": {"values": [0, 0.2, 0.4, 0.6, 0.8, 1], "tickCount": 12, "format": ".1f", "title": "Local Efficiency", "labelFontSize": 18, "labelPadding": 3, "titlePadding": 8.5}}}},
    {"data": {"name": "le"}, "transform": [{"filter": "datum.k === 'A'"}], "mark": {"type": "line", "color": "#333", "strokeWidth": 1.1, "strokeDash": [4, 3]}, "encoding": {"x": {"field": "x", "type": "quantitative"}, "y": {"field": "rg", "type": "quantitative"}}},
    {"data": {"name": "le"}, "transform": [{"filter": "datum.k === 'A'"}], "mark": {"type": "point", "shape": "square", "filled": true, "opacity": 1, "color": "#222", "size": 38}, "encoding": {"x": {"field": "x", "type": "quantitative"}, "y": {"field": "rl", "type": "quantitative"}}},
    {"data": {"name": "t"}, "transform": [{"filter": "datum.g === 'PDM_POV'"}], "mark": {"type": "text", "align": "right", "baseline": "alphabetic", "fontSize": 25, "fontWeight": "bold", "color": "#222", "dy": -3}, "encoding": {"x": {"datum": 0.207}, "y": {"datum": 1}, "text": {"field": "n", "type": "nominal"}}},
    {"data": {"name": "t"}, "transform": [{"filter": "datum.g === 'PDM_POV'"}], "mark": {"type": "text", "align": "left", "baseline": "alphabetic", "fontSize": 16.5, "fontWeight": "bold", "color": "#222", "dx": 1, "dy": 0.5}, "encoding": {"x": {"datum": 0.207}, "y": {"datum": 1}, "text": {"field": "s", "type": "nominal"}}}
   ]},
  {"width": 220, "height": 186,
   "layer": [
    {"data": {"name": "le"}, "transform": [{"filter": "datum.k === 'B'"}], "mark": {"type": "line", "color": "#1a1a1a", "strokeWidth": 1.8}, "encoding": {"x": {"field": "x", "type": "quantitative", "scale": {"domain": [0, 0.4], "nice": false}, "axis": {"values": [0, 0.1, 0.2, 0.3, 0.4], "format": ".1f", "title": "Cost", "labelPadding": 7, "titlePadding": 6}}, "y": {"field": "rn", "type": "quantitative", "scale": {"domain": [0, 1], "nice": false}, "axis": {"values": [0, 0.2, 0.4, 0.6, 0.8, 1], "tickCount": 12, "format": ".1f", "title": "Local Efficiency", "labelFontSize": 18, "labelPadding": 3, "titlePadding": 8.5}}}},
    {"data": {"name": "le"}, "transform": [{"filter": "datum.k === 'B'"}], "mark": {"type": "line", "color": "#333", "strokeWidth": 1.1, "strokeDash": [4, 3]}, "encoding": {"x": {"field": "x", "type": "quantitative"}, "y": {"field": "rg", "type": "quantitative"}}},
    {"data": {"name": "le"}, "transform": [{"filter": "datum.k === 'B'"}], "mark": {"type": "point", "shape": "square", "filled": true, "opacity": 1, "color": "#222", "size": 38}, "encoding": {"x": {"field": "x", "type": "quantitative"}, "y": {"field": "rl", "type": "quantitative"}}},
    {"data": {"name": "t"}, "transform": [{"filter": "datum.g === 'CON_POV'"}], "mark": {"type": "text", "align": "right", "baseline": "alphabetic", "fontSize": 25, "fontWeight": "bold", "color": "#222", "dy": -3}, "encoding": {"x": {"datum": 0.2}, "y": {"datum": 1}, "text": {"field": "n", "type": "nominal"}}},
    {"data": {"name": "t"}, "transform": [{"filter": "datum.g === 'CON_POV'"}], "mark": {"type": "text", "align": "left", "baseline": "alphabetic", "fontSize": 16.5, "fontWeight": "bold", "color": "#222", "dx": 1, "dy": 0.5}, "encoding": {"x": {"datum": 0.2}, "y": {"datum": 1}, "text": {"field": "s", "type": "nominal"}}}
   ]}
 ]
}
]
}
